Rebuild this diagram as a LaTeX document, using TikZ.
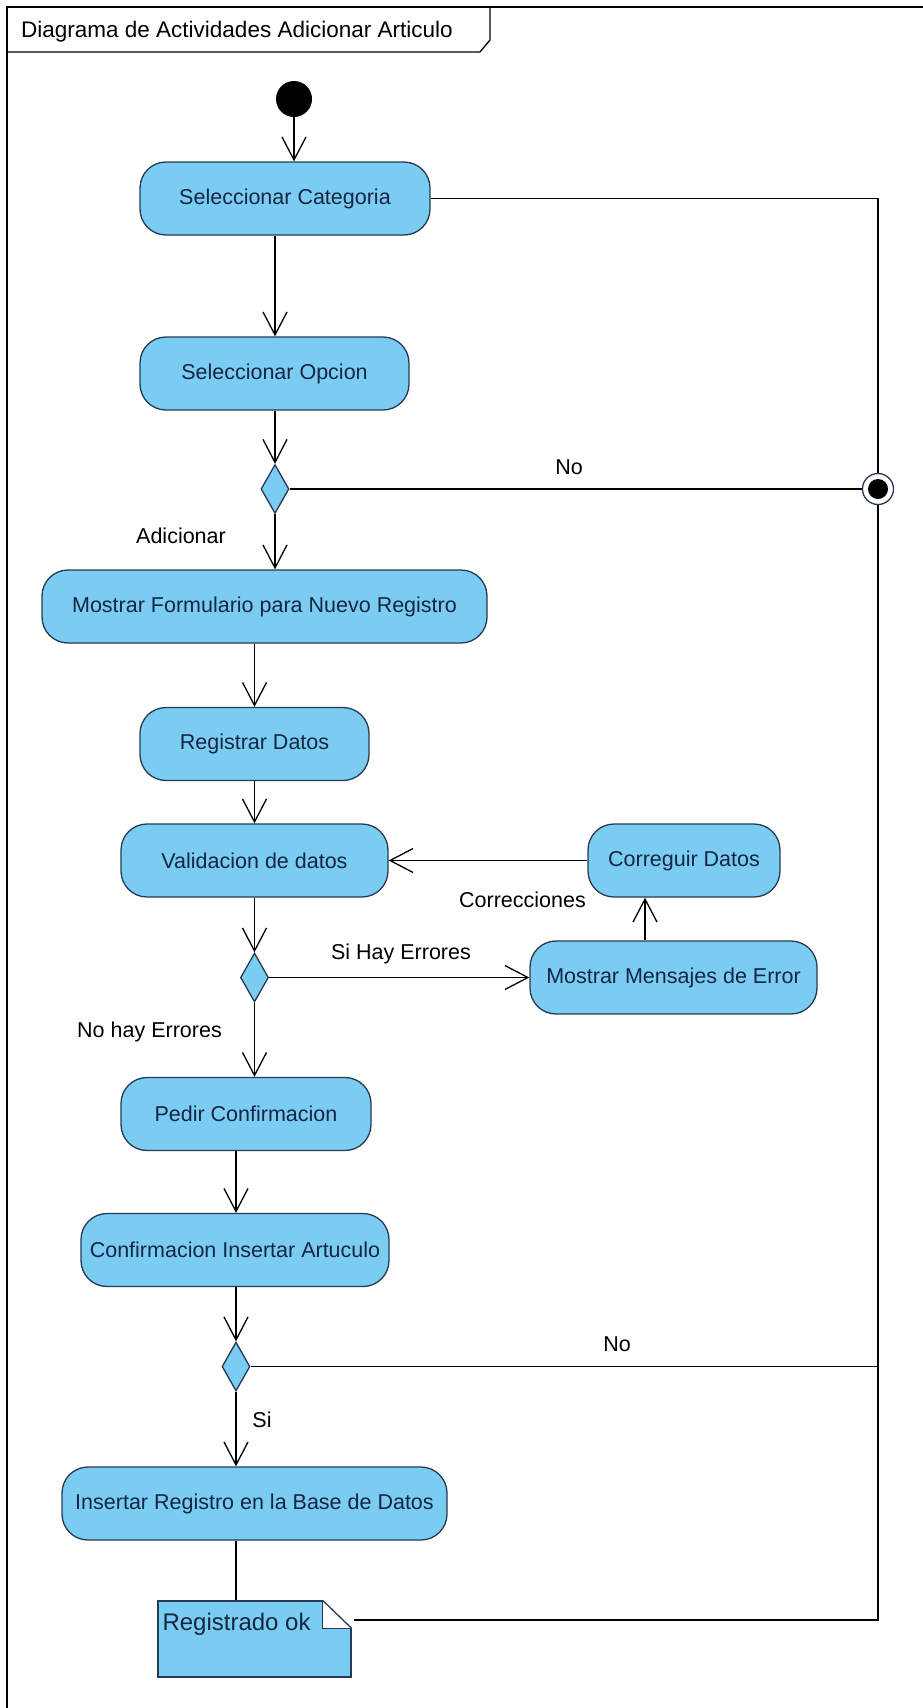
\documentclass[tikz,border=0pt]{standalone}
\usepackage{fontspec}
\setmainfont{Liberation Sans}
\usetikzlibrary{positioning,shapes.geometric,arrows.meta}
\definecolor{azulact}{RGB}{122,204,242}
\definecolor{bordeact}{RGB}{38,58,82}
\definecolor{textoact}{RGB}{22,38,66}

\begin{document}
\begin{tikzpicture}[x=1pt,y=-1pt,
  accion/.style={draw=bordeact,fill=azulact,rounded corners=26pt,line width=1.3pt,minimum height=73pt,inner sep=0pt,text=textoact,font=\fontsize{21.5}{25}\selectfont},
  decision/.style={diamond,draw=bordeact,fill=azulact,line width=1.3pt,minimum width=28pt,minimum height=49pt,inner sep=0pt},
  flujo/.style={line width=1.3pt,-{Straight Barb[length=23pt,width=24pt]}},
  linea/.style={line width=1.3pt},
  etiqueta/.style={font=\fontsize{21.5}{25}\selectfont,inner sep=0pt}]
% marco y pestana del titulo (el marco sigue fuera de la imagen)
\useasboundingbox (0,0) rectangle (923,1708);
\draw[linea] (7,1708) -- (7,7) -- (923,7);
\draw[linea] (7,52) -- (480,52) -- (490,40) -- (490,7);
\node[anchor=base west,font=\fontsize{22.5}{26}\selectfont,inner sep=0pt] (titulo) at (21,37.5) {Diagrama de Actividades Adicionar Articulo};

\node[circle,fill=black,minimum size=36pt,inner sep=0pt] (inicio) at (294,99) {};
\node[accion,minimum width=290pt] (selCat) at (285,198.5) {Seleccionar Categoria};
\node[accion,minimum width=269pt] (selOp) at (274.5,373.5) {Seleccionar Opcion};
\node[decision] (dec1) at (275,489) {};
\node[circle,draw=bordeact,line width=1.3pt,fill=white,minimum size=31pt,inner sep=0pt] (fin) at (878,489) {};
\fill[black] (fin) circle (10);
\node[accion,minimum width=445pt] (mostrar) at (264.5,606.5) {Mostrar Formulario para Nuevo Registro};
\node[accion,minimum width=229pt] (registrar) at (254.5,744) {Registrar Datos};
\node[accion,minimum width=267pt] (valida) at (254.5,860.5) {Validacion de datos};
\node[accion,minimum width=192pt] (corregir) at (684,860.5) {Correguir Datos};
\node[decision] (dec2) at (254.5,977.5) {};
\node[accion,minimum width=287pt] (mensajes) at (673.5,977.5) {Mostrar Mensajes de Error};
\node[accion,minimum width=250pt] (pedir) at (246,1114) {Pedir Confirmacion};
\node[accion,minimum width=308pt] (confirma) at (235,1250) {Confirmacion Insertar Artuculo};
\node[decision] (dec3) at (236,1366.5) {};
\node[accion,minimum width=385pt] (insertar) at (254.5,1503.5) {Insertar Registro en la Base de Datos};
\node[draw=bordeact,fill=azulact,line width=1.3pt,minimum width=193pt,minimum height=76pt,inner sep=0pt] (nota) at (254.5,1639) {};
\fill[white] ([xshift=-29pt]nota.north east) rectangle ([yshift=-28pt]nota.north east);
\draw[draw=bordeact,line width=1.3pt] ([xshift=-29pt]nota.north east) -- ([yshift=-28pt]nota.north east);
\draw[draw=bordeact,line width=1.3pt] ([xshift=-29pt]nota.north east) |- ([yshift=-28pt]nota.north east);
\node[anchor=west,text=textoact,font=\fontsize{24}{28}\selectfont,inner sep=0pt] (notaTexto) at ([xshift=5pt,yshift=-24pt]nota.north west) {Registrado ok};

% etiquetas de las transiciones
\node[etiqueta] (lblAdicionar) at (181,536) {Adicionar};
\node[etiqueta] (lblNo1) at (569,467) {No};
\node[etiqueta] (lblSiErr) at (401,954) {Si Hay Errores};
\node[etiqueta] (lblCorr) at (522.5,900) {Correcciones};
\node[etiqueta] (lblNoErr) at (149.5,1032) {No hay Errores};
\node[etiqueta] (lblNo2) at (617,1344) {No};
\node[etiqueta] (lblSi) at (262,1420) {Si};

\coordinate (m1) at ([xshift=-28.5pt]mensajes.north);
\draw[flujo] (inicio) -- (inicio |- selCat.north);
\draw[flujo] (selCat.south -| dec1) -- (selOp.north -| dec1);
\draw[flujo] (selOp.south -| dec1) -- (dec1.north);
\draw[flujo] (dec1.south) -- (mostrar.north -| dec1);
\draw[linea] (dec1.east) -- (fin.west);
\draw[linea] (selCat.east) -| (fin.north);
\draw[flujo] (mostrar.south -| registrar) -- (registrar.north);
\draw[flujo] (registrar.south) -- (valida.north);
\draw[flujo] (valida.south) -- (dec2.north);
\draw[flujo] (dec2.east) -- (mensajes.west);
\draw[flujo] (m1) -- (m1 |- corregir.south);
\draw[flujo] (corregir.west) -- (valida.east);
\draw[flujo] (dec2.south) -- (dec2.south |- pedir.north);
\draw[flujo] (pedir.south -| dec3) -- (confirma.north -| dec3);
\draw[flujo] (confirma.south -| dec3) -- (dec3.north);
\draw[flujo] (dec3.south) -- (insertar.north -| dec3);
\draw[linea] (dec3.east) -- (dec3 -| fin);
\draw[linea] (insertar.south -| dec3) -- (nota.north -| dec3);
\draw[linea] ([xshift=2pt,yshift=19pt]nota.east) -| (fin.south);
\end{tikzpicture}
\end{document}
